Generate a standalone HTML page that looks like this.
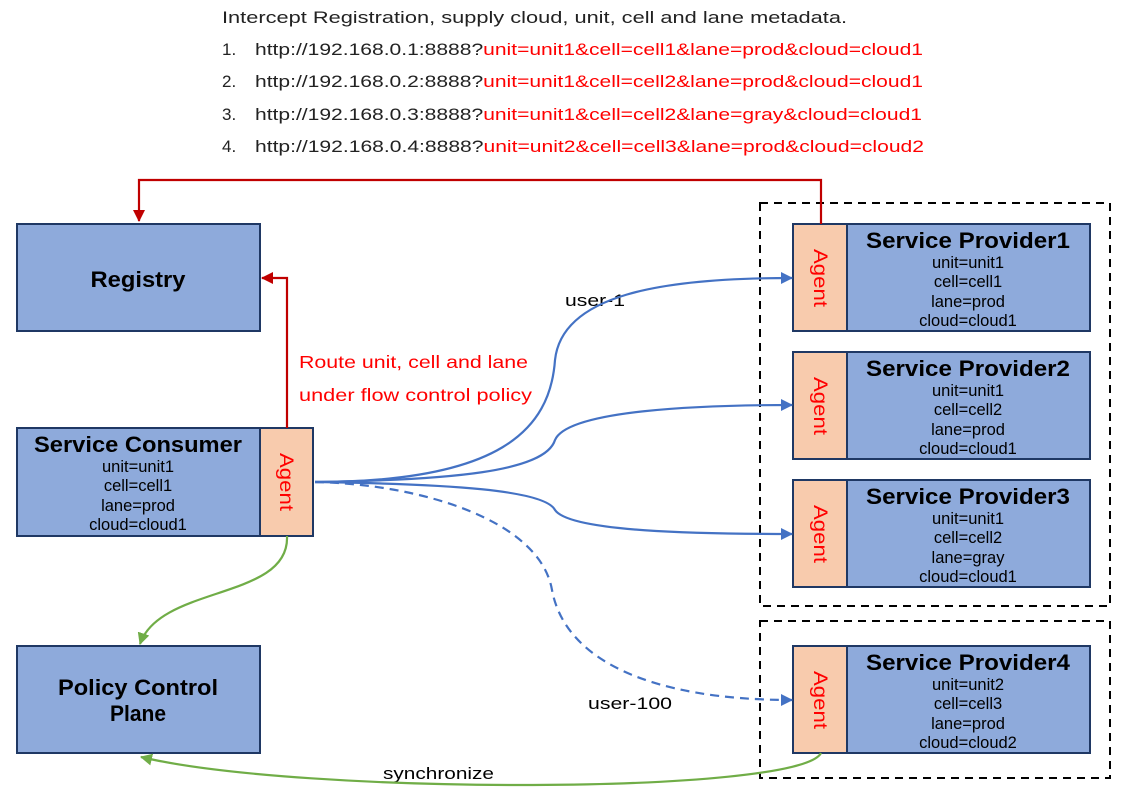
<!DOCTYPE html>
<html><head><meta charset="utf-8"><style>
body{margin:0;background:#fff;}
svg{display:block;font-family:"Liberation Sans",sans-serif;}
</style></head><body>
<svg width="1121" height="806" viewBox="0 0 1121 806" xmlns="http://www.w3.org/2000/svg">
<defs>
<marker id="ar" markerWidth="12" markerHeight="12" refX="11" refY="6" orient="auto" markerUnits="userSpaceOnUse"><path d="M0,0 L12,6 L0,12 z" fill="#c00000"/></marker>
<marker id="ab" markerWidth="12" markerHeight="12" refX="11" refY="6" orient="auto" markerUnits="userSpaceOnUse"><path d="M0,0 L12,6 L0,12 z" fill="#4472c4"/></marker>
<marker id="ag" markerWidth="12" markerHeight="12" refX="11" refY="6" orient="auto" markerUnits="userSpaceOnUse"><path d="M0,0 L12,6 L0,12 z" fill="#70ad47"/></marker>
</defs>
<g font-size="17" fill="#222" lengthAdjust="spacingAndGlyphs">
<text x="222" y="23" textLength="625" lengthAdjust="spacingAndGlyphs">Intercept Registration, supply cloud, unit, cell and lane metadata.</text>
<text x="222" y="55">1.</text><text x="255" y="55" textLength="668" lengthAdjust="spacingAndGlyphs">http://192.168.0.1:8888?<tspan fill="#ff0000">unit=unit1&amp;cell=cell1&amp;lane=prod&amp;cloud=cloud1</tspan></text>
<text x="222" y="87">2.</text><text x="255" y="87" textLength="668" lengthAdjust="spacingAndGlyphs">http://192.168.0.2:8888?<tspan fill="#ff0000">unit=unit1&amp;cell=cell2&amp;lane=prod&amp;cloud=cloud1</tspan></text>
<text x="222" y="120">3.</text><text x="255" y="120" textLength="667" lengthAdjust="spacingAndGlyphs">http://192.168.0.3:8888?<tspan fill="#ff0000">unit=unit1&amp;cell=cell2&amp;lane=gray&amp;cloud=cloud1</tspan></text>
<text x="222" y="152">4.</text><text x="255" y="152" textLength="669" lengthAdjust="spacingAndGlyphs">http://192.168.0.4:8888?<tspan fill="#ff0000">unit=unit2&amp;cell=cell3&amp;lane=prod&amp;cloud=cloud2</tspan></text>
</g>
<rect x="760" y="203" width="350" height="403" fill="none" stroke="#000" stroke-width="2" stroke-dasharray="8,6"/>
<rect x="760" y="621" width="350" height="157" fill="none" stroke="#000" stroke-width="2" stroke-dasharray="8,6"/>
<g stroke="#1f3864" stroke-width="2">
<rect x="17" y="224" width="243" height="107" fill="#8eaadb"/>
<rect x="17" y="428" width="243" height="108" fill="#8eaadb"/>
<rect x="260" y="428" width="53" height="108" fill="#f8cbad"/>
<rect x="17" y="646" width="243" height="107" fill="#8eaadb"/>
<rect x="793" y="224" width="54" height="107" fill="#f8cbad"/><rect x="847" y="224" width="243" height="107" fill="#8eaadb"/>
<rect x="793" y="352" width="54" height="107" fill="#f8cbad"/><rect x="847" y="352" width="243" height="107" fill="#8eaadb"/>
<rect x="793" y="480" width="54" height="107" fill="#f8cbad"/><rect x="847" y="480" width="243" height="107" fill="#8eaadb"/>
<rect x="793" y="646" width="54" height="107" fill="#f8cbad"/><rect x="847" y="646" width="243" height="107" fill="#8eaadb"/>
</g>
<g fill="#000" text-anchor="middle">
<text x="138" y="287" font-size="22" font-weight="bold" textLength="95" lengthAdjust="spacingAndGlyphs">Registry</text>
<text x="138" y="695" font-size="22" font-weight="bold" textLength="160" lengthAdjust="spacingAndGlyphs">Policy Control</text>
<text x="138" y="721" font-size="22" font-weight="bold" textLength="56" lengthAdjust="spacingAndGlyphs">Plane</text>
<text x="138" y="452" font-size="22" font-weight="bold" textLength="208" lengthAdjust="spacingAndGlyphs" style="font-weight:600">Service Consumer</text>
<g font-size="16.5"><text x="138" y="472">unit=unit1</text><text x="138" y="491">cell=cell1</text><text x="138" y="511">lane=prod</text><text x="138" y="530">cloud=cloud1</text></g>
<g font-size="22" font-weight="bold"><text x="968" y="248" textLength="204" lengthAdjust="spacingAndGlyphs">Service Provider1</text>
<text x="968" y="376" textLength="204" lengthAdjust="spacingAndGlyphs">Service Provider2</text>
<text x="968" y="504" textLength="204" lengthAdjust="spacingAndGlyphs">Service Provider3</text>
<text x="968" y="670" textLength="204" lengthAdjust="spacingAndGlyphs">Service Provider4</text></g>
<g font-size="16.5"><text x="968" y="268">unit=unit1</text><text x="968" y="287">cell=cell1</text><text x="968" y="307">lane=prod</text><text x="968" y="326">cloud=cloud1</text></g>
<g font-size="16.5"><text x="968" y="396">unit=unit1</text><text x="968" y="415">cell=cell2</text><text x="968" y="435">lane=prod</text><text x="968" y="454">cloud=cloud1</text></g>
<g font-size="16.5"><text x="968" y="524">unit=unit1</text><text x="968" y="543">cell=cell2</text><text x="968" y="563">lane=gray</text><text x="968" y="582">cloud=cloud1</text></g>
<g font-size="16.5"><text x="968" y="690">unit=unit2</text><text x="968" y="709">cell=cell3</text><text x="968" y="729">lane=prod</text><text x="968" y="748">cloud=cloud2</text></g>
</g>
<g fill="#ff0000" font-size="19" text-anchor="middle">
<text transform="translate(280,482) rotate(90)" textLength="58" lengthAdjust="spacingAndGlyphs">Agent</text>
<text transform="translate(814,278) rotate(90)" textLength="58" lengthAdjust="spacingAndGlyphs">Agent</text>
<text transform="translate(814,406) rotate(90)" textLength="58" lengthAdjust="spacingAndGlyphs">Agent</text>
<text transform="translate(814,534) rotate(90)" textLength="58" lengthAdjust="spacingAndGlyphs">Agent</text>
<text transform="translate(814,700) rotate(90)" textLength="58" lengthAdjust="spacingAndGlyphs">Agent</text>
</g>
<g fill="#ff0000" font-size="17.5"><text x="299" y="368" textLength="229" lengthAdjust="spacingAndGlyphs">Route unit, cell and lane</text><text x="299" y="401" textLength="233" lengthAdjust="spacingAndGlyphs">under flow control policy</text></g>
<g fill="#000" font-size="17"><text x="565" y="306" textLength="60" lengthAdjust="spacingAndGlyphs">user-1</text><text x="588" y="709" textLength="84" lengthAdjust="spacingAndGlyphs">user-100</text><text x="383" y="779" textLength="111" lengthAdjust="spacingAndGlyphs">synchronize</text></g>
<g fill="none" stroke-width="2.2">
<path d="M821,224 V180 H139 V221" stroke="#c00000" marker-end="url(#ar)"/>
<path d="M287,428 V278 H262" stroke="#c00000" marker-end="url(#ar)"/>
<path d="M315,482 C500,482 550,430 555,360 C562,295 660,278 792,278" stroke="#4472c4" marker-end="url(#ab)"/>
<path d="M315,482 C450,480 545,472 555,440 C568,410 700,405 792,405" stroke="#4472c4" marker-end="url(#ab)"/>
<path d="M315,482 C450,484 545,490 555,510 C570,532 700,534 792,534" stroke="#4472c4" marker-end="url(#ab)"/>
<path d="M315,482 C420,484 540,520 552,590 C565,660 650,700 792,700" stroke="#4472c4" stroke-dasharray="9,6" marker-end="url(#ab)"/>
<path d="M287,536 C290,600 160,585 140,644" stroke="#70ad47" marker-end="url(#ag)"/>
<path d="M821,753 C800,795 300,795 141,757" stroke="#70ad47" marker-end="url(#ag)"/>
</g>
</svg>
</body></html>
